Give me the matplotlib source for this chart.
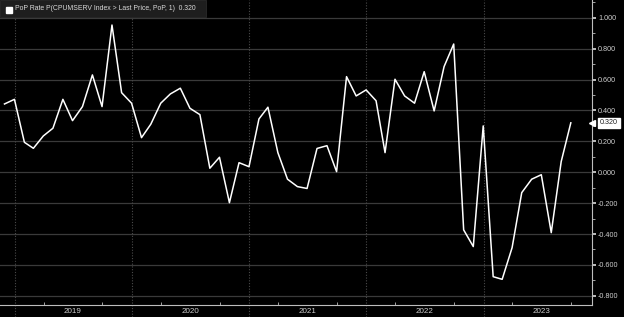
import matplotlib
matplotlib.use("Agg")
import matplotlib.pyplot as plt
import matplotlib.dates as mdates
import numpy as np
import pandas as pd
from matplotlib.ticker import MultipleLocator, FuncFormatter

plt.rcParams['font.family'] = ['Liberation Sans', 'DejaVu Sans']

start_month = "2018-11-30"
values = [0.442, 0.472, 0.194, 0.155, 0.235, 0.285, 0.472, 0.334, 0.425, 0.630,
          0.425, 0.953, 0.515, 0.447, 0.224, 0.311, 0.447, 0.507, 0.544, 0.414,
          0.373, 0.026, 0.097, -0.197, 0.062, 0.036, 0.345, 0.421, 0.127, -0.045,
          -0.093, -0.105, 0.154, 0.172, 0.004, 0.619, 0.494, 0.533, 0.463, 0.127,
          0.602, 0.494, 0.447, 0.651, 0.397, 0.684, 0.830, -0.373, -0.481, 0.300,
          -0.676, -0.693, -0.488, -0.132, -0.045, -0.016, -0.391, 0.069, 0.320]
years = [2019, 2020, 2021, 2022, 2023]
legend_label = "PoP Rate P(CPUMSERV Index > Last Price, PoP, 1)"
last_label = "0.320"

dates = pd.date_range(start_month, periods=len(values), freq="ME")

fig = plt.figure(figsize=(6.24, 3.17), dpi=100, facecolor="black")
ax = fig.add_axes([0.0, 0.038, 0.9482, 0.962])
ax.set_facecolor("black")

ax.set_ylim(-0.859, 1.115)
ax.set_xlim(pd.Timestamp("2018-11-16"), pd.Timestamp("2023-12-04"))

# horizontal grid
for v in np.arange(-0.8, 1.01, 0.2):
    ax.axhline(v, color="#3a3a3a", lw=0.9, zorder=1)

# vertical year separators (dotted), extend below axis
for y in years:
    ax.axvline(pd.Timestamp(f"{y}-01-01"), ymin=-0.04, ymax=1, color="#4a4a4a",
               lw=0.8, ls=(0, (1, 1.5)), clip_on=False, zorder=1)

ax.plot(dates, values, color="white", lw=1.1, zorder=3)

# spines
for s in ["top", "left"]:
    ax.spines[s].set_visible(False)
ax.spines["right"].set_color("#bdbdbd")
ax.spines["bottom"].set_color("#bdbdbd")
ax.spines["right"].set_linewidth(0.8)
ax.spines["bottom"].set_linewidth(0.8)

# y axis on right
ax.yaxis.tick_right()
ax.yaxis.set_major_locator(MultipleLocator(0.2))
ax.yaxis.set_minor_locator(MultipleLocator(0.1))
ax.yaxis.set_major_formatter(FuncFormatter(lambda v, p: f"{v:.3f}"))
ax.tick_params(axis="y", which="major", direction="out", length=3, width=1.4,
               colors="#bdbdbd", labelsize=5.2, pad=1.5)
ax.tick_params(axis="y", which="minor", direction="out", length=2, width=0.6,
               colors="#bdbdbd")
for lab in ax.get_yticklabels():
    lab.set_color("#cfcfcf")

# x axis: year labels at mid-year, quarter minor ticks
ax.xaxis.set_major_locator(mdates.YearLocator(month=7, day=1))
ax.xaxis.set_major_formatter(mdates.DateFormatter("%Y"))
ax.xaxis.set_minor_locator(mdates.MonthLocator(bymonth=[4, 7, 10]))
ax.tick_params(axis="x", which="major", length=0, colors="#cfcfcf",
               labelsize=5.8, pad=2)
ax.tick_params(axis="x", which="minor", direction="in", length=2.5, width=0.6,
               colors="#bdbdbd")

# last value label
last_v = values[-1]
ax.annotate(last_label, xy=(1.0, last_v), xycoords=("axes fraction", "data"),
            xytext=(6, 0), textcoords="offset points", va="center", ha="left",
            fontsize=5.2, color="#222222", annotation_clip=False,
            bbox=dict(boxstyle="square,pad=0.25", fc="white", ec="white"),
            zorder=10)
ax.plot([1.0], [last_v], marker="<", ms=5, color="white",
        transform=ax.get_yaxis_transform(), clip_on=False, zorder=9)

# legend box
fig.patches.append(plt.Rectangle((0.0, 1 - 17 / 317), 206 / 624, 17 / 317,
                                 transform=fig.transFigure, fc="#1e1e1e",
                                 ec="#2a2a2a", lw=0.6, zorder=5))
fig.patches.append(plt.Rectangle((6 / 624, 1 - 13 / 317), 6 / 624, 6 / 317,
                                 transform=fig.transFigure, fc="white",
                                 ec="white", zorder=6))
fig.text(15 / 624, 1 - 8.5 / 317, f"{legend_label}  {last_label}",
         fontsize=4.95, color="#d8d8d8", va="center", ha="left", zorder=7)

fig.savefig("out.png", dpi=100, facecolor="black")
